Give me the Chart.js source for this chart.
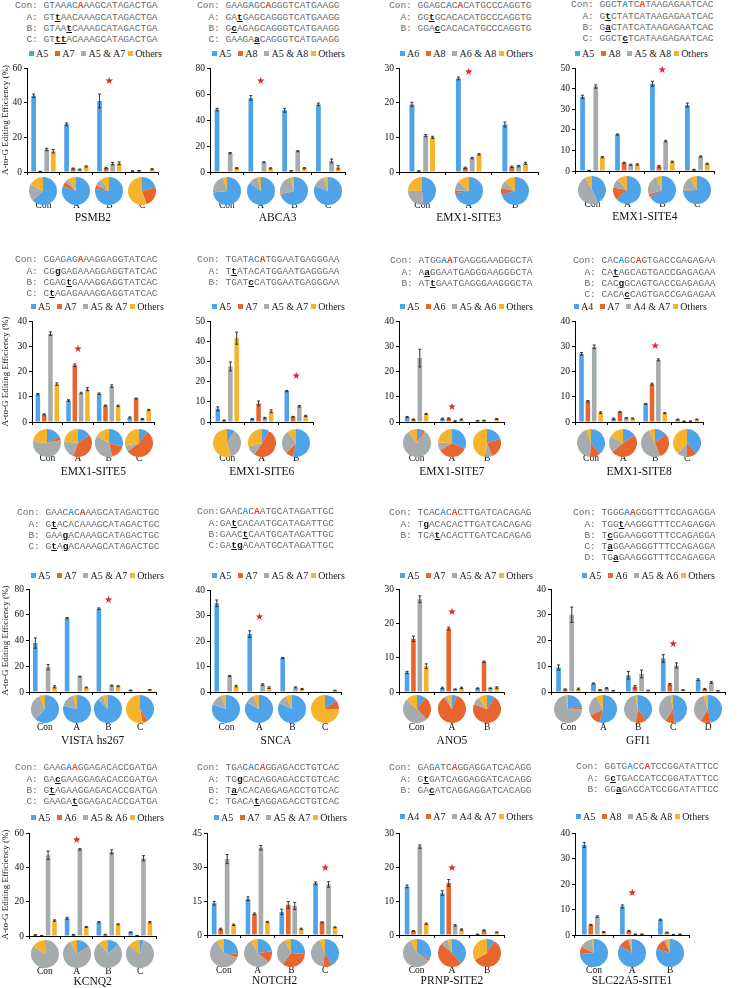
<!DOCTYPE html>
<html>
<head>
<meta charset="utf-8">
<script src="https://cdn.jsdelivr.net/npm/chart.js@4.4.1/dist/chart.umd.min.js"></script>
<style>
  body { margin: 0; background: #fff; }
  #fig { position: relative; width: 738px; height: 988px; overflow: hidden;
         font-family: 'Liberation Serif', 'Times New Roman', serif; }
  .seq { position: absolute; margin: 0; font-family: 'Liberation Mono', 'Courier New', monospace;
         font-size: 9.5px; line-height: 11.2px; color: #6a6a6a; white-space: pre; }
  .seq .b { color: #3d9be6; font-weight: bold; }
  .seq .r { color: #e8452c; font-weight: bold; }
  .seq .m { color: #111; font-weight: bold; text-decoration: underline; }
  .lg { position: absolute; display: flex; align-items: center; height: 12px;
        font-size: 10px; color: #222; white-space: nowrap; }
  .lg .it { display: flex; align-items: center; margin-right: 7px; }
  .lg .it:nth-child(3) { margin-right: 3px; }
  .lg .box { display: inline-block; width: 5px; height: 5px; margin-right: 2px; }
  canvas { position: absolute; }
</style>
</head>
<body>
<div id="fig"></div>
<script>
// ---- data ----
const sites = ["PSMB2", "ABCA3", "EMX1-SITE3", "EMX1-SITE4",
  "EMX1-SITE5", "EMX1-SITE6", "EMX1-SITE7", "EMX1-SITE8",
  "VISTA hs267", "SNCA", "ANO5", "GFI1",
  "KCNQ2", "NOTCH2", "PRNP-SITE2", "SLC22A5-SITE1"];

const groups = [
  ["Con", "A", "B", "C"], ["Con", "A", "B", "C"], ["Con", "A", "B"], ["Con", "A", "B", "C"],
  ["Con", "A", "B", "C"], ["Con", "A", "B"], ["Con", "A", "B"], ["Con", "A", "B", "C"],
  ["Con", "A", "B", "C"], ["Con", "A", "B", "C"], ["Con", "A", "B"], ["Con", "A", "B", "C", "D"],
  ["Con", "A", "B", "C"], ["Con", "A", "B", "C"], ["Con", "A", "B"], ["Con", "A", "B"]
];

const seriesLabels = [
  ["A5", "A7", "A5 & A7", "Others"], ["A5", "A8", "A5 & A8", "Others"],
  ["A6", "A8", "A6 & A8", "Others"], ["A5", "A8", "A5 & A8", "Others"],
  ["A5", "A7", "A5 & A7", "Others"], ["A5", "A7", "A5 & A7", "Others"],
  ["A5", "A6", "A5 & A6", "Others"], ["A4", "A7", "A4 & A7", "Others"],
  ["A5", "A7", "A5 & A7", "Others"], ["A5", "A7", "A5 & A7", "Others"],
  ["A5", "A7", "A5 & A7", "Others"], ["A5", "A6", "A5 & A6", "Others"],
  ["A5", "A6", "A5 & A6", "Others"], ["A5", "A7", "A5 & A7", "Others"],
  ["A4", "A7", "A4 & A7", "Others"], ["A5", "A8", "A5 & A8", "Others"]
];

// first edited A only
const firstA = [
  [44, 27.5, 41, 0.6], [48, 57, 47.5, 52], [19.5, 27, 13.7], [36, 17.7, 42.3, 32],
  [11, 8.5, 11.2, 1.8], [6.5, 1.5, 15.3], [2, 1.3, 0.5], [27, 1.3, 7.2, 1],
  [38, 57.3, 64.7, 1.3], [34.8, 22.7, 13.3, 0.12], [5.7, 1.2, 1.1], [9.5, 3.3, 6.5, 13, 4.8],
  [0.6, 10.3, 8, 2.2], [14, 16, 10.2, 22.8], [14.3, 12.3, 0.2], [35.3, 11.2, 6]
];
const firstAErr = [
  [1, 0.8, 4, 0.1], [1, 1.8, 1.5, 1], [0.6, 0.4, 0.7], [0.8, 0.3, 1.2, 1],
  [0.3, 0.3, 0.3, 0.2], [1, 0.2, 0.3], [0.2, 0.2, 0.1], [0.5, 0.2, 0.2, 0.15],
  [4, 0.5, 0.6, 0.2], [1.3, 1.3, 0.2, 0], [0.3, 0.2, 0.1], [1, 0.2, 1.5, 1.5, 0.3],
  [0.2, 0.6, 0.4, 0.2], [0.8, 0.8, 1.2, 0.6], [0.4, 0.7, 0.05], [1, 0.6, 0.2]
];

// second edited A only
const secondA = [
  [0.3, 2, 2.3, 0.7], [0, 0, 1, 0], [0.3, 1.2, 1.5], [0.3, 4, 2.3, 0.6],
  [3, 22.5, 6.5, 9.3], [0.8, 9.2, 2.6], [1, 1.4, 0.6], [8.2, 4, 15, 0.3],
  [0, 0, 0, 0.2], [0, 0, 0, 0.08], [15.5, 18.5, 8.8], [1, 0.8, 2, 3, 1.2],
  [0.3, 0.7, 0.8, 0.3], [2.7, 9.3, 13.3, 5.6], [1.2, 15.3, 1.4], [4, 1.6, 1]
];
const secondAErr = [
  [0.1, 0.3, 0.4, 0.1], [0, 0, 0.2, 0], [0.05, 0.2, 0.2], [0.05, 0.3, 0.4, 0.2],
  [0.2, 0.5, 0.2, 0.2], [0.2, 1.2, 0.2], [0.2, 0.2, 0.1], [0.3, 0.2, 0.4, 0.05],
  [0, 0, 0, 0], [0, 0, 0, 0], [0.8, 0.4, 0.2], [0.2, 0.1, 0.5, 0.3, 0.2],
  [0.05, 0.2, 0.2, 0.05], [0.3, 0.4, 1.5, 0.2], [0.1, 1, 0.1], [0.2, 0.2, 0.1]
];

// both A edited
const bothA = [
  [13, 1.5, 4.8, 0], [14.5, 7.5, 16, 8.5], [10.5, 4, 1.7], [41, 3, 14.5, 7],
  [35, 11.5, 14.2, 1.2], [27.5, 2, 7.8], [25.3, 0.4, 0.2], [29.8, 1.6, 24.6, 0.3],
  [19.3, 12, 5, 0], [6.3, 2.9, 1.8, 0], [27, 0.8, 1.1], [30, 1.5, 7, 10.3, 3.7],
  [47, 50.5, 49, 45.3], [33.5, 38.5, 12.8, 22.3], [26, 2.8, 0], [7.2, 0.3, 0.2]
];
const bothAErr = [
  [0.7, 0.2, 0.7, 0], [0.5, 0.4, 0.4, 1.5], [0.3, 0.2, 0.2], [0.8, 0.3, 0.4, 0.3],
  [0.7, 0.3, 0.5, 0.2], [2.2, 0.3, 0.4], [3.5, 0.1, 0], [0.7, 0.1, 0.4, 0.05],
  [2, 0.3, 0.4, 0], [0.2, 0.3, 0.2, 0], [1, 0.1, 0.1], [3, 0.2, 1.5, 1, 0.3],
  [2.5, 0.5, 1.2, 1.5], [2, 1, 1.6, 1.2], [0.5, 0.2, 0], [0.3, 0.05, 0.05]
];

const othersA = [
  [12, 3.2, 5, 1.6], [3, 2.8, 3, 3.5], [10, 5.1, 2.5], [6.7, 3.2, 4.5, 3.5],
  [15, 13, 6.4, 4.8], [41.5, 5.3, 3], [3.2, 1, 1.2], [3.7, 1.4, 3.5, 1],
  [4, 3.5, 4.5, 1.7], [2.3, 1.7, 1.2, 0.6], [7.5, 1.2, 1.3], [1.2, 0.5, 0.6, 0.8, 0.5],
  [9, 5.3, 6.8, 8], [4.5, 5.8, 2.7, 3.4], [3.3, 1.6, 0.8], [1.2, 0.3, 0.3]
];
const othersAErr = [
  [1, 0.3, 0.8, 0.3], [0.4, 0.4, 0.4, 1.3], [0.3, 0.2, 0.3], [0.3, 0.3, 0.3, 0.3],
  [0.5, 0.6, 0.3, 0.2], [3, 0.7, 0.3], [0.2, 0.2, 0.2], [0.3, 0.2, 0.2, 0.15],
  [0.8, 0.3, 0.4, 0.2], [0.3, 0.3, 0.2, 0.1], [0.7, 0.2, 0.2], [0.3, 0.05, 0.1, 0.1, 0.05],
  [0.4, 0.3, 0.3, 0.4], [0.3, 0.2, 0.3, 0.2], [0.2, 0.2, 0.1], [0.2, 0.05, 0.05]
];

const yMax = [60, 80, 30, 50, 40, 50, 40, 40, 80, 40, 30, 40, 60, 45, 30, 40];
const yStep = [20, 20, 10, 10, 10, 10, 10, 10, 20, 10, 10, 10, 20, 15, 10, 10];

// red star: group index and height (in %)
const starGroup = [2, 1, 1, 2, 1, 2, 1, 2, 2, 1, 1, 3, 1, 3, 1, 1];
const starLevel = [52.5, 70, 28.6, 49, 28.7, 22.6, 5.8, 30, 71.5, 29.2, 23.2, 18.6, 55.6, 29.5, 19.7, 16.2];

// {x} blue site, [x] red site, lowercase = edited base
const sequences = [
  ["Con: GTAA{A}C[A]AAGCATAGACTGA", "  A: GTtAACAAAGCATAGACTGA", "  B: GTAAtCAAAGCATAGACTGA", "  C: GTttACAAAGCATAGACTGA"],
  ["Con: GAAG{A}GC[A]GGGTCATGAAGG", "  A: GAtGAGCAGGGTCATGAAGG", "  B: GcAGAGCAGGGTCATGAAGG", "  C: GAAGAaCAGGGTCATGAAGG"],
  ["Con: GGAGC{A}C[A]CATGCCCAGGTG", "  A: GGtGCACACATGCCCAGGTG", "  B: GGAcCACACATGCCCAGGTG"],
  ["Con: GGCT{A}TC[A]TAAGAGAATCAC", "  A: GtCTATCATAAGAGAATCAC", "  B: GaCTATCATAAGAGAATCAC", "  C: GGCTcTCATAAGAGAATCAC"],
  ["Con: CGAG{A}G[A]AAGGAGGTATCAC", "  A: CGgGAGAAAGGAGGTATCAC", "  B: CGAGtGAAAGGAGGTATCAC", "  C: CtAGAGAAAGGAGGTATCAC"],
  ["Con: TGAT{A}C[A]TGGAATGAGGGAA", "  A: TtATACATGGAATGAGGGAA", "  B: TGATcCATGGAATGAGGGAA"],
  ["Con: ATGG{A}[A]TGAGGGAAGGGCTA", "  A: AaGGAATGAGGGAAGGGCTA", "  B: ATtGAATGAGGGAAGGGCTA"],
  ["Con: CAC{A}GC[A]GTGACCGAGAGAA", "  A: CAtAGCAGTGACCGAGAGAA", "  B: CACgGCAGTGACCGAGAGAA", "  C: CACAcCAGTGACCGAGAGAA"],
  ["Con: GAAC{A}C[A]AAGCATAGACTGC", "  A: GtACACAAAGCATAGACTGC", "  B: GAAgACAAAGCATAGACTGC", "  C: GtAgACAAAGCATAGACTGC"],
  ["Con:GAAC{A}C[A]ATGCATAGATTGC", "  A:GAtCACAATGCATAGATTGC", "  B:GAACtCAATGCATAGATTGC", "  C:GAtgACAATGCATAGATTGC"],
  ["Con: TCAC{A}C[A]CTTGATCACAGAG", "  A: TgACACACTTGATCACAGAG", "  B: TCAtACACTTGATCACAGAG"],
  ["Con: TGGG{A}[A]GGGTTTCCAGAGGA", "  A: TGGtAAGGGTTTCCAGAGGA", "  B: TcGGAAGGGTTTCCAGAGGA", "  C: TaGGAAGGGTTTCCAGAGGA", "  D: TGaGAAGGGTTTCCAGAGGA"],
  ["Con: GAAG{A}[A]GGAGACACCGATGA", "  A: GAcGAAGGAGACACCGATGA", "  B: GtAGAAGGAGACACCGATGA", "  C: GAAGAtGGAGACACCGATGA"],
  ["Con: TGAC{A}C[A]GGAGACCTGTCAC", "  A: TGgCACAGGAGACCTGTCAC", "  B: TaACACAGGAGACCTGTCAC", "  C: TGACAtAGGAGACCTGTCAC"],
  ["Con: GAG{A}TC[A]GGAGGATCACAGG", "  A: GtGATCAGGAGGATCACAGG", "  B: GAcATCAGGAGGATCACAGG"],
  ["Con: GGTG{A}CC[A]TCCGGATATTCC", "  A: GcTGACCATCCGGATATTCC", "  B: GGaGACCATCCGGATATTCC"]
];

// ---- layout (page pixels) ----
// y-axis x, x-axis right end, top tick y, zero line y
const frames = [
  [27, 168, 68, 172], [210, 354, 68, 172], [399, 541, 68, 172], [575, 723, 68, 171],
  [32, 168, 321, 422], [210, 325, 321, 422], [399, 516, 321, 422], [575, 716, 321, 422],
  [29, 168, 589, 692], [210, 353, 590, 692], [399, 515, 589, 692], [551, 736, 589, 692],
  [29, 168, 833, 936], [207, 353, 833, 935], [399, 515, 833, 935], [575, 698, 833, 935]
];
// sequence block: left x, centre y of first line
const seqPos = [
  [15, 6], [197, 6], [389, 6], [571, 5],
  [15, 260], [197, 260], [390, 261], [573, 261],
  [17, 513], [197, 512], [389, 513], [573, 513],
  [15, 768], [197, 768], [389, 768], [576, 767]
];
// legend: left x, centre y
const legendPos = [
  [29, 53], [212, 53], [400, 53], [575, 53],
  [31, 306], [212, 306], [400, 306], [574, 306],
  [31, 575], [212, 575], [400, 575], [582, 575],
  [31, 817], [214, 817], [400, 816], [576, 816]
];
// per row: pie centre, group label centre, site title centre (below zero line)
const rowOffsets = [
  { pie: 19, label: 33, title: 46 },
  { pie: 21, label: 36, title: 50 },
  { pie: 17, label: 35, title: 49 },
  { pie: 18, label: 35, title: 46 }
];

const colors = ["#4fa3e8", "#e8652e", "#a6abad", "#f6b42c"];

Chart.defaults.font.family = "'Liberation Serif', 'Times New Roman', serif";
Chart.defaults.color = "#111";

const errorBars = {
  id: "errorBars",
  afterDatasetsDraw(chart) {
    const { ctx, scales: { y } } = chart;
    ctx.save();
    ctx.strokeStyle = "#333";
    ctx.lineWidth = 1;
    chart.data.datasets.forEach((ds, i) => {
      chart.getDatasetMeta(i).data.forEach((bar, j) => {
        const e = ds.errors[j];
        if (!e) return;
        const v = ds.data[j];
        const t = y.getPixelForValue(v + e);
        const b = y.getPixelForValue(Math.max(0, v - e));
        ctx.beginPath();
        ctx.moveTo(bar.x, t); ctx.lineTo(bar.x, b);
        ctx.moveTo(bar.x - 1.5, t); ctx.lineTo(bar.x + 1.5, t);
        ctx.moveTo(bar.x - 1.5, b); ctx.lineTo(bar.x + 1.5, b);
        ctx.stroke();
      });
    });
    ctx.restore();
  }
};

const starMark = {
  id: "starMark",
  afterDraw(chart, args, opts) {
    const { ctx, scales: { x, y } } = chart;
    ctx.save();
    ctx.fillStyle = "#e3262b";
    ctx.font = "10px 'DejaVu Sans'";
    ctx.textAlign = "center";
    ctx.textBaseline = "middle";
    ctx.fillText("\u2605", x.getPixelForValue(opts.group), y.getPixelForValue(opts.level));
    ctx.restore();
  }
};

function seqHtml(line) {
  const k = line.indexOf(":");
  let out = line.slice(0, k + 1);
  let cls = null;
  for (const ch of line.slice(k + 1)) {
    if (ch === "{") { cls = "b"; continue; }
    if (ch === "[") { cls = "r"; continue; }
    if (ch === "}" || ch === "]") { cls = null; continue; }
    if (cls) out += '<span class="' + cls + '">' + ch + '</span>';
    else if (ch >= "a" && ch <= "z") out += '<span class="m">' + ch + '</span>';
    else out += ch;
  }
  return out;
}

const fig = document.getElementById("fig");

sites.forEach((site, p) => {
  const [ax, ar, top, zero] = frames[p];
  const col = p % 4;
  const off = rowOffsets[Math.floor(p / 4)];

  // sequence block
  const pre = document.createElement("pre");
  pre.className = "seq";
  pre.style.left = seqPos[p][0] + "px";
  pre.style.top = (seqPos[p][1] - 5.6) + "px";
  pre.innerHTML = sequences[p].map(seqHtml).join("\n");
  fig.appendChild(pre);

  // bar chart
  const left = col === 0 ? 0 : ax - 24;
  const w = ar - left + 2;
  const h = zero - top + 8 + off.title + 7;
  const canvas = document.createElement("canvas");
  canvas.width = w; canvas.height = h;
  canvas.style.left = left + "px";
  canvas.style.top = (top - 8) + "px";
  canvas.style.width = w + "px";
  canvas.style.height = h + "px";
  fig.appendChild(canvas);

  const n = groups[p].length;
  const catPct = Math.min(0.9, 28 / ((ar - ax) / n));
  const series = [firstA[p], secondA[p], bothA[p], othersA[p]];
  const errs = [firstAErr[p], secondAErr[p], bothAErr[p], othersAErr[p]];

  const chart = new Chart(canvas, {
    type: "bar",
    data: {
      labels: groups[p],
      datasets: series.map((d, k) => ({
        label: seriesLabels[p][k],
        data: d,
        errors: errs[k],
        backgroundColor: colors[k],
        categoryPercentage: catPct,
        barPercentage: 0.72
      }))
    },
    options: {
      responsive: false,
      animation: false,
      devicePixelRatio: 1,
      layout: { padding: { top: 8, right: 2, left: 0, bottom: 0 } },
      plugins: {
        legend: { display: false },
        tooltip: { enabled: false },
        starMark: { group: starGroup[p], level: starLevel[p] }
      },
      scales: {
        x: {
          grid: { offset: true, drawOnChartArea: false, tickLength: 3, color: "#000" },
          border: { color: "#000" },
          ticks: { font: { size: 9.5 }, color: "#111", padding: off.label - 3 - 5.7, autoSkip: false, maxRotation: 0 },
          title: { display: true, text: site, font: { size: 11.5 }, color: "#111", padding: 0 },
          afterFit(s) { s.height = off.title + 7; }
        },
        y: {
          min: 0, max: yMax[p],
          ticks: { stepSize: yStep[p], font: { size: 9.5 }, color: "#111", padding: 2 },
          grid: { drawOnChartArea: false, tickLength: 3, color: "#000" },
          border: { color: "#000" },
          title: { display: col === 0, text: "A-to-G Editing Efficiency (%)", font: { size: 9 }, color: "#111", padding: 0 },
          afterFit(s) { s.width = ax - left; }
        }
      }
    },
    plugins: [errorBars, starMark]
  });

  // legend (HTML, from the chart's own legend items)
  const lg = document.createElement("div");
  lg.className = "lg";
  lg.style.left = legendPos[p][0] + "px";
  lg.style.top = (legendPos[p][1] - 6) + "px";
  Chart.defaults.plugins.legend.labels.generateLabels(chart).forEach(item => {
    const it = document.createElement("span");
    it.className = "it";
    it.innerHTML = '<span class="box" style="background:' + item.fillStyle + '"></span>' + item.text;
    lg.appendChild(it);
  });
  fig.appendChild(lg);

  // one pie per group, centred under its category
  groups[p].forEach((g, i) => {
    const cx = left + chart.scales.x.getPixelForValue(i);
    const pc = document.createElement("canvas");
    pc.width = 28; pc.height = 28;
    pc.style.width = "28px"; pc.style.height = "28px";
    pc.style.left = (cx - 14) + "px";
    pc.style.top = (zero + off.pie - 14) + "px";
    fig.appendChild(pc);
    new Chart(pc, {
      type: "pie",
      data: {
        labels: seriesLabels[p],
        datasets: [{ data: series.map(s => s[i]), backgroundColor: colors, borderWidth: 0 }]
      },
      options: {
        responsive: false,
        animation: false,
        devicePixelRatio: 1,
        plugins: { legend: { display: false }, tooltip: { enabled: false } }
      }
    });
  });
});
</script>
</body>
</html>
